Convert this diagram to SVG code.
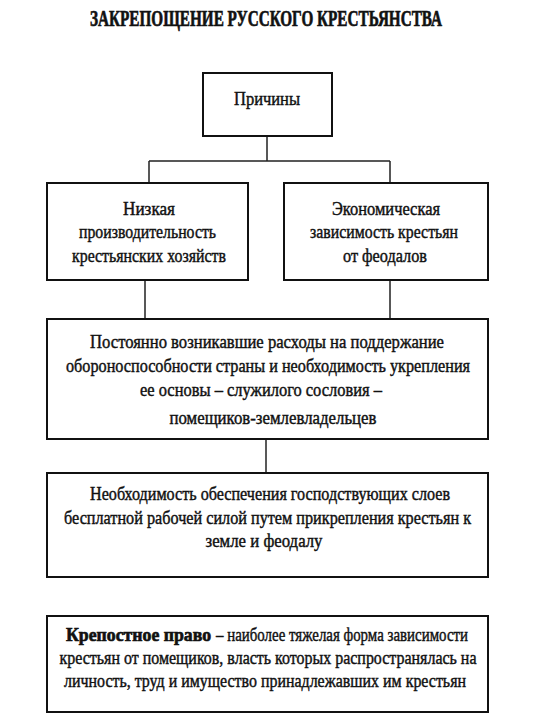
<svg xmlns="http://www.w3.org/2000/svg" width="540" height="720" viewBox="0 0 540 720">
<style>
.box{fill:#fff;stroke:#111;stroke-width:2}
.t{font-family:"Liberation Serif","DejaVu Serif","Times New Roman",serif;font-size:19px;fill:#111;stroke:#111;stroke-width:0.45;text-anchor:middle}
.s{text-anchor:start}
.title{font-family:"Liberation Serif","DejaVu Serif","Times New Roman",serif;font-size:23px;font-weight:bold;fill:#111;stroke:#111;stroke-width:0.7;text-anchor:middle}
.b{font-weight:bold;stroke-width:0.7}
.c{fill:none;stroke:#222;stroke-width:1.5}
</style>
<rect width="540" height="720" fill="#fff"/>
<text class="title" x="266" y="26" textLength="352" lengthAdjust="spacingAndGlyphs">ЗАКРЕПОЩЕНИЕ РУССКОГО КРЕСТЬЯНСТВА</text>
<g id="connectors">
<path class="c" d="M267 136V161M149 161H390M149 161V183M390 161V183"/>
<path class="c" d="M145 280V319M390 280V319"/>
<path class="c" d="M266 439V473"/>
</g>
<g id="prichiny">
<rect class="box" x="203" y="73" width="129" height="63"/>
<text class="t" x="267" y="105" font-size="20" textLength="66" lengthAdjust="spacingAndGlyphs">Причины</text>
</g>
<g id="nizkaya">
<rect class="box" x="47" y="183" width="201" height="97"/>
<text class="t" x="149" y="215" textLength="52" lengthAdjust="spacingAndGlyphs">Низкая</text>
<text class="t" x="147.5" y="238" textLength="137" lengthAdjust="spacingAndGlyphs">производительность</text>
<text class="t" x="149" y="262" textLength="154" lengthAdjust="spacingAndGlyphs">крестьянских хозяйств</text>
</g>
<g id="ekonom">
<rect class="box" x="284" y="183" width="204" height="97"/>
<text class="t" x="386" y="215" textLength="108" lengthAdjust="spacingAndGlyphs">Экономическая</text>
<text class="t" x="384" y="238" textLength="148" lengthAdjust="spacingAndGlyphs">зависимость крестьян</text>
<text class="t" x="385" y="262" textLength="84" lengthAdjust="spacingAndGlyphs">от феодалов</text>
</g>
<g id="rashody">
<rect class="box" x="47" y="319" width="441" height="120"/>
<text class="t" x="267" y="348" textLength="354" lengthAdjust="spacingAndGlyphs">Постоянно возникавшие расходы на поддержание</text>
<text class="t" x="268" y="372" textLength="404" lengthAdjust="spacingAndGlyphs">обороноспособности страны и необходимость укрепления</text>
<text class="t" x="261" y="396" textLength="242" lengthAdjust="spacingAndGlyphs">ее основы – служилого сословия –</text>
<text class="t" x="273" y="424" textLength="207" lengthAdjust="spacingAndGlyphs">помещиков-землевладельцев</text>
</g>
<g id="neobhodimost">
<rect class="box" x="47" y="473" width="441" height="104"/>
<text class="t" x="270" y="500" textLength="360" lengthAdjust="spacingAndGlyphs">Необходимость обеспечения господствующих слоев</text>
<text class="t" x="267.5" y="524" textLength="407" lengthAdjust="spacingAndGlyphs">бесплатной рабочей силой путем прикрепления крестьян к</text>
<text class="t" x="264" y="547" textLength="117" lengthAdjust="spacingAndGlyphs">земле и феодалу</text>
</g>
<g id="krepostnoe">
<rect class="box" x="47" y="616" width="441" height="96"/>
<text class="t s b" x="66" y="641" textLength="145" lengthAdjust="spacingAndGlyphs">Крепостное право</text>
<text class="t s" x="216" y="641" textLength="252" lengthAdjust="spacingAndGlyphs">– наиболее тяжелая форма зависимости</text>
<text class="t" x="268" y="664" textLength="417" lengthAdjust="spacingAndGlyphs">крестьян от помещиков, власть которых распространялась на</text>
<text class="t" x="265" y="687" textLength="402" lengthAdjust="spacingAndGlyphs">личность, труд и имущество принадлежавших им крестьян</text>
</g>
</svg>
